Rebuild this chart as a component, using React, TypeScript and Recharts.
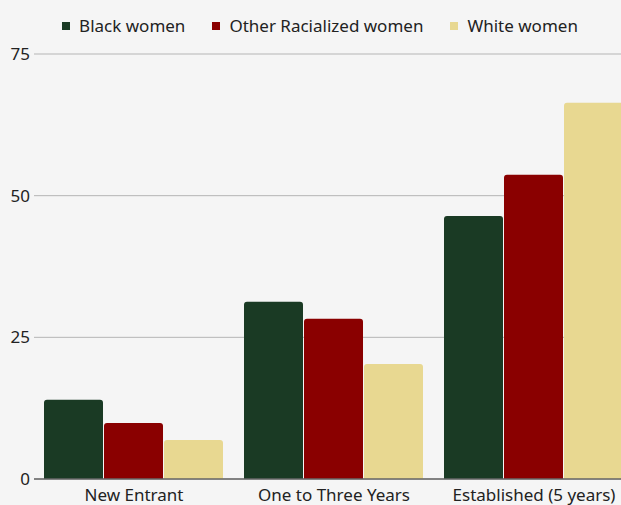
import { BarChart, Bar, XAxis, YAxis, CartesianGrid } from 'recharts'

const categories = ['New Entrant', 'One to Three Years', 'Established (5 years)']
const blackWomen = [14, 31.3, 46.4]
const otherRacialized = [9.9, 28.3, 53.7]
const whiteWomen = [6.9, 20.3, 66.4]
const yTicks = [0, 25, 50, 75]

const series = [
  { key: 'black', name: 'Black women', color: '#1a3a24' },
  { key: 'other', name: 'Other Racialized women', color: '#8a0000' },
  { key: 'white', name: 'White women', color: '#e8d891' },
]

const data = categories.map((name, i) => ({
  name,
  black: blackWomen[i],
  other: otherRacialized[i],
  white: whiteWomen[i],
}))

const font = '"Noto Sans", sans-serif'

function LegendRow() {
  return (
    <div
      style={{
        position: 'absolute',
        top: 15,
        left: 0,
        width: 640,
        display: 'flex',
        justifyContent: 'center',
        gap: 27,
        fontFamily: font,
        fontSize: 17,
        lineHeight: '22px',
        color: '#222',
      }}
    >
      {series.map((s) => (
        <div key={s.key} style={{ display: 'flex', alignItems: 'center', gap: 9 }}>
          <span style={{ width: 8, height: 8, background: s.color, display: 'inline-block' }} />
          <span>{s.name}</span>
        </div>
      ))}
    </div>
  )
}

export default function App() {
  return (
    <div
      style={{
        position: 'fixed',
        left: 0,
        top: 0,
        width: 621,
        height: 505,
        overflow: 'hidden',
        background: '#f5f5f5',
      }}
    >
      <BarChart
        width={640}
        height={505}
        data={data}
        margin={{ top: 54, right: 6, bottom: 0, left: 0 }}
        barCategoryGap={10}
        barGap={1}
      >
        <CartesianGrid vertical={false} stroke="#b5b5b5" strokeWidth={1} />
        <YAxis
          domain={[0, 75]}
          ticks={yTicks}
          width={34}
          axisLine={false}
          tickLine={false}
          tickSize={4}
          tickMargin={0}
          tick={{ fill: '#222', fontSize: 17, fontFamily: font }}
        />
        <XAxis
          dataKey="name"
          height={26}
          axisLine={{ stroke: '#666', strokeWidth: 1.5 }}
          tickLine={false}
          tickSize={6}
          tickMargin={4}
          interval={0}
          tick={{ fill: '#222', fontSize: 17, fontFamily: font }}
        />
        {series.map((s) => (
          <Bar
            key={s.key}
            dataKey={s.key}
            name={s.name}
            fill={s.color}
            radius={[3, 3, 0, 0]}
            isAnimationActive={false}
          />
        ))}
      </BarChart>
      <LegendRow />
    </div>
  )
}
